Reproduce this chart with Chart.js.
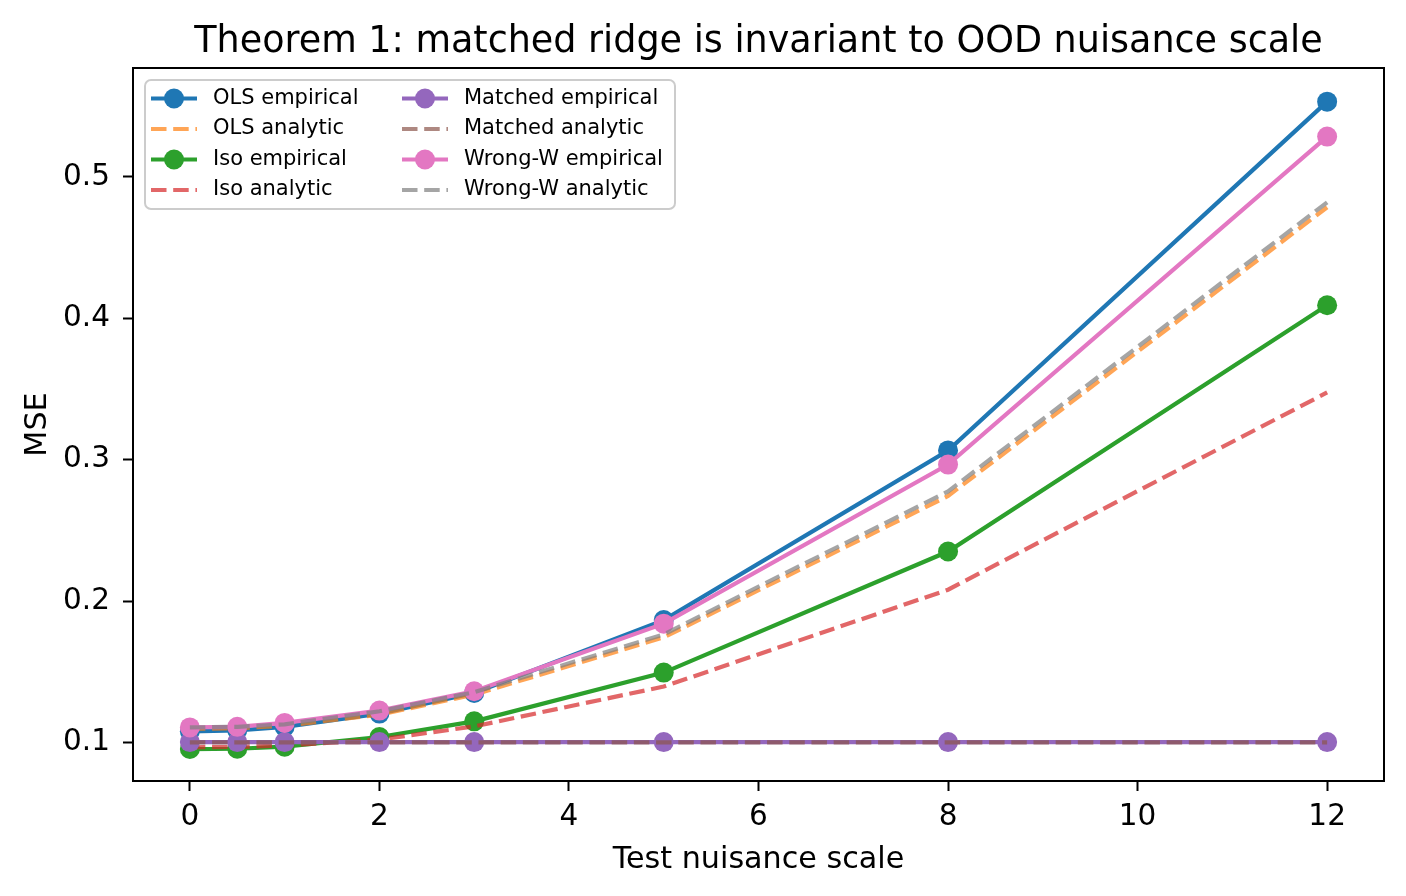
<!DOCTYPE html>
<html>
<head>
<meta charset="utf-8">
<script src="https://cdn.jsdelivr.net/npm/chart.js@4.4.0/dist/chart.umd.min.js"></script>
<style>
html,body{margin:0;padding:0;background:#fff;}
#wrap{position:relative;width:1406px;height:896px;}
</style>
</head>
<body>
<div id="wrap"><canvas id="c" width="1406" height="896"></canvas></div>
<script>
// ---- data ----
const titleText = 'Theorem 1: matched ridge is invariant to OOD nuisance scale';
const xLabel = 'Test nuisance scale';
const yLabel = 'MSE';
const xValues = [0, 0.5, 1, 2, 3, 5, 8, 12];
const olsEmpirical      = [0.1078, 0.1085, 0.1110, 0.1204, 0.1350, 0.1865, 0.3065, 0.5532];
const olsAnalytic       = [0.1095, 0.1100, 0.1118, 0.1196, 0.1338, 0.1743, 0.2743, 0.4785];
const isoEmpirical      = [0.0953, 0.0955, 0.0970, 0.1038, 0.1149, 0.1494, 0.2350, 0.4092];
const isoAnalytic       = [0.0965, 0.0968, 0.0978, 0.1020, 0.1113, 0.1395, 0.2080, 0.3475];
const matchedEmpirical  = [0.1002, 0.1002, 0.1002, 0.1002, 0.1002, 0.1002, 0.1002, 0.1002];
const matchedAnalytic   = [0.1000, 0.1000, 0.1000, 0.1000, 0.1000, 0.1000, 0.1000, 0.1000];
const wrongWEmpirical   = [0.1106, 0.1110, 0.1138, 0.1225, 0.1362, 0.1840, 0.2965, 0.5285];
const wrongWAnalytic    = [0.1106, 0.1110, 0.1128, 0.1220, 0.1355, 0.1764, 0.2775, 0.4820];
const seriesLabels = ['OLS empirical', 'OLS analytic', 'Iso empirical', 'Iso analytic',
                      'Matched empirical', 'Matched analytic', 'Wrong-W empirical', 'Wrong-W analytic'];
const seriesValues = [olsEmpirical, olsAnalytic, isoEmpirical, isoAnalytic,
                      matchedEmpirical, matchedAnalytic, wrongWEmpirical, wrongWAnalytic];
const xTickValues = [0, 2, 4, 6, 8, 10, 12];
const yTickValues = [0.1, 0.2, 0.3, 0.4, 0.5];

// ---- styles ----
const FONT = 'DejaVu Sans';
const seriesColors = ['#1f77b4', 'rgba(255,127,14,0.7)', '#2ca02c', 'rgba(214,39,40,0.7)',
                      '#9467bd', 'rgba(140,86,75,0.7)', '#e377c2', 'rgba(127,127,127,0.7)'];
const isEmpirical = [true, false, true, false, true, false, true, false];
const LW = 4.2;
const DASH = [15.5, 6.7];

Chart.defaults.font.family = FONT;
Chart.defaults.color = '#000';

const datasets = seriesLabels.map((lab, i) => ({
  label: lab,
  data: xValues.map((x, j) => ({x: x, y: seriesValues[i][j]})),
  borderColor: seriesColors[i],
  backgroundColor: seriesColors[i],
  borderWidth: LW,
  borderDash: isEmpirical[i] ? [] : DASH,
  pointRadius: isEmpirical[i] ? 10 : 0,
  pointHoverRadius: isEmpirical[i] ? 10 : 0,
  pointBorderWidth: 0,
  pointBackgroundColor: seriesColors[i],
  tension: 0,
  fill: false,
  order: seriesLabels.length - 1 - i
}));

const framePlugin = {
  id: 'frame',
  afterDraw(chart) {
    const {ctx, chartArea: a} = chart;
    ctx.save();
    // spines
    ctx.strokeStyle = '#000';
    ctx.lineWidth = 2;
    ctx.strokeRect(a.left, a.top, a.right - a.left, a.bottom - a.top);
    // title
    ctx.fillStyle = '#000';
    ctx.font = '36.5px "' + FONT + '"';
    ctx.textAlign = 'center';
    ctx.textBaseline = 'alphabetic';
    ctx.fillText(titleText, (a.left + a.right) / 2, 52);
    // legend
    const bx = 145, by = 80, bw = 530, bh = 129, r = 6;
    ctx.beginPath();
    ctx.moveTo(bx + r, by);
    ctx.arcTo(bx + bw, by, bx + bw, by + bh, r);
    ctx.arcTo(bx + bw, by + bh, bx, by + bh, r);
    ctx.arcTo(bx, by + bh, bx, by, r);
    ctx.arcTo(bx, by, bx + bw, by, r);
    ctx.closePath();
    ctx.fillStyle = 'rgba(255,255,255,0.8)';
    ctx.fill();
    ctx.strokeStyle = '#cccccc';
    ctx.lineWidth = 2;
    ctx.stroke();
    ctx.font = '21px "' + FONT + '"';
    ctx.textAlign = 'left';
    ctx.textBaseline = 'middle';
    seriesLabels.forEach((lab, i) => {
      const col = i < 4 ? 0 : 1;
      const row = i % 4;
      const y = 98.5 + row * 30.5;
      const hx0 = col ? 402 : 151;
      const hx1 = hx0 + 46;
      ctx.strokeStyle = seriesColors[i];
      ctx.lineWidth = LW;
      ctx.setLineDash(isEmpirical[i] ? [] : DASH);
      ctx.beginPath();
      ctx.moveTo(hx0, y);
      ctx.lineTo(hx1, y);
      ctx.stroke();
      ctx.setLineDash([]);
      if (isEmpirical[i]) {
        ctx.fillStyle = seriesColors[i];
        ctx.beginPath();
        ctx.arc((hx0 + hx1) / 2, y, 10, 0, Math.PI * 2);
        ctx.fill();
      }
      ctx.fillStyle = '#000';
      ctx.fillText(lab, col ? 464 : 213, y);
    });
    ctx.restore();
  }
};

new Chart(document.getElementById('c'), {
  type: 'line',
  data: {datasets: datasets},
  plugins: [framePlugin],
  options: {
    responsive: false,
    animation: false,
    devicePixelRatio: 1,
    layout: {padding: {top: 68, right: 22, left: 0, bottom: 0}},
    plugins: {legend: {display: false}, tooltip: {enabled: false}, title: {display: false}},
    scales: {
      x: {
        type: 'linear', min: -0.6, max: 12.6,
        afterBuildTicks: s => { s.ticks = xTickValues.map(v => ({value: v})); },
        afterFit: s => { s.height = 115; },
        ticks: {font: {size: 29.5}, color: '#000', padding: 9, maxRotation: 0, autoSkip: false,
                callback: v => String(v)},
        grid: {display: true, drawOnChartArea: false, drawTicks: true, tickLength: 10,
               tickWidth: 2, tickColor: '#000', color: '#000'},
        border: {display: true, color: '#000', width: 2},
        title: {display: true, text: xLabel, font: {size: 30.2}, color: '#000', padding: {top: 0, bottom: 18}}
      },
      y: {
        type: 'linear', min: 0.0727, max: 0.577,
        afterBuildTicks: s => { s.ticks = yTickValues.map(v => ({value: v})); },
        afterFit: s => { s.width = 133; },
        ticks: {font: {size: 29.5}, color: '#000', padding: 13, autoSkip: false,
                callback: v => Number(v).toFixed(1)},
        grid: {display: true, drawOnChartArea: false, drawTicks: true, tickLength: 10,
               tickWidth: 2, tickColor: '#000', color: '#000'},
        border: {display: true, color: '#000', width: 2},
        title: {display: true, text: yLabel, font: {size: 30.2}, color: '#000', padding: {top: 20, bottom: 0}}
      }
    }
  }
});
</script>
</body>
</html>
